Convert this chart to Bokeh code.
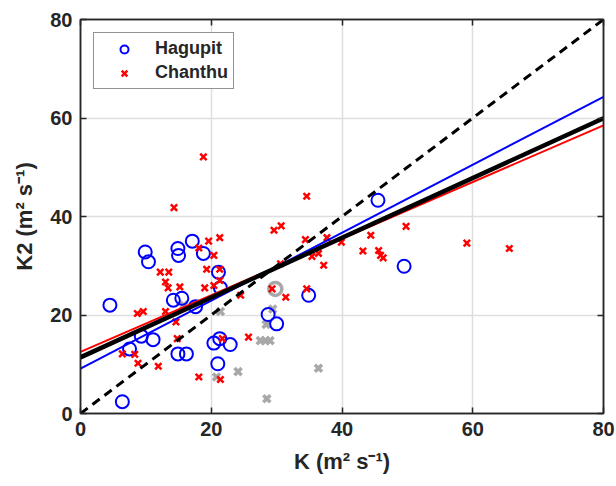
import numpy as np
from bokeh.plotting import figure
from bokeh.models import LinearAxis, FixedTicker, Range1d, Legend, LegendItem
from bokeh.embed import file_html
from bokeh.resources import INLINE

# ---- data ----
hag_k = [4.5, 9.9, 10.4, 14.9, 15.0, 17.1, 18.8, 21.1, 21.4, 14.2, 15.5, 17.6, 9.3, 11.1,
         7.5, 14.9, 16.2, 6.4, 20.4, 21.3, 22.9, 21.0, 28.7, 30.0, 34.9, 45.5, 49.5]
hag_k2 = [22.0, 32.8, 30.8, 33.5, 32.1, 35.0, 32.5, 28.7, 25.5, 23.0, 23.4, 21.7, 15.7, 15.0,
          13.1, 12.1, 12.1, 2.4, 14.3, 15.2, 14.0, 10.1, 20.1, 18.2, 24.0, 43.3, 29.9]

cha_k = [18.8, 14.3, 34.6, 19.6, 21.3, 18.1, 20.4, 19.3, 21.3, 12.2, 13.5, 13.0, 13.4, 15.2,
         19.0, 20.4, 21.3, 29.6, 30.7, 34.4, 37.7, 35.4, 36.4, 37.2, 30.6, 24.5, 31.4, 34.6,
         29.3, 8.7, 9.6, 13.0, 14.6, 14.8, 6.4, 8.3, 8.8, 11.9, 18.1, 21.4, 21.7, 25.7, 39.9,
         44.4, 43.2, 45.6, 45.9, 46.3, 49.8, 59.1, 65.6]
cha_k2 = [52.1, 41.8, 44.1, 35.0, 35.7, 33.6, 32.1, 29.3, 29.3, 28.7, 28.7, 26.7, 25.5, 25.7,
          25.5, 26.0, 27.0, 37.2, 38.1, 35.3, 35.7, 31.9, 32.5, 30.1, 30.4, 24.0, 23.6, 25.3,
          25.3, 20.3, 20.7, 20.7, 18.6, 15.2, 12.1, 12.0, 10.2, 9.6, 7.4, 6.9, 15.2, 15.5, 34.8,
          36.2, 33.0, 33.1, 32.1, 31.6, 38.0, 34.6, 33.5]

excl_k = [15.8, 21.4, 29.4, 28.4, 27.5, 28.3, 29.0, 24.1, 20.8, 28.5, 36.4]
excl_k2 = [22.0, 20.7, 21.2, 18.1, 14.8, 14.8, 14.8, 8.5, 7.4, 3.0, 9.2]
excl_circ_k = [29.8]
excl_circ_k2 = [25.3]

# linear fits: Hagupit, Chanthu, all
fit_names = ["Hagupit", "Chanthu", "All"]
fit_intercepts = [9.1, 12.5, 11.4]
fit_slopes = [0.69, 0.575, 0.607]

ticks = [0, 20, 40, 60, 80]
FONT = "Liberation Sans"

p = figure(width=616, height=486, output_backend="svg", toolbar_location=None,
           x_range=Range1d(0, 80), y_range=Range1d(0, 80),
           min_border_left=80, min_border_right=13, min_border_top=19, min_border_bottom=73,
           background_fill_color="white", border_fill_color="white")
p.outline_line_color = "#262626"
p.outline_line_width = 1.5

for ax in (p.xaxis[0], p.yaxis[0]):
    ax.ticker = FixedTicker(ticks=ticks)
    ax.major_tick_in = 6
    ax.major_tick_out = 0
    ax.minor_tick_line_color = None
    ax.axis_line_color = "#262626"
    ax.axis_line_width = 1.5
    ax.major_tick_line_color = "#262626"
    ax.major_tick_line_width = 1.5
    ax.major_label_text_font = FONT
    ax.major_label_text_font_style = "bold"
    ax.major_label_text_font_size = "20px"
    ax.major_label_text_color = "#262626"
    ax.axis_label_text_font = FONT
    ax.axis_label_text_font_style = "bold"
    ax.axis_label_text_font_size = "22px"
    ax.axis_label_text_color = "#262626"

p.xaxis[0].axis_label = "K (m² s⁻¹)"
p.yaxis[0].axis_label = "K2 (m² s⁻¹)"
p.xaxis[0].major_label_standoff = 8
p.yaxis[0].major_label_standoff = 8
p.xaxis[0].axis_label_standoff = 10
p.yaxis[0].axis_label_standoff = 10

for loc in ("above", "right"):
    ax = LinearAxis(ticker=FixedTicker(ticks=ticks))
    ax.major_tick_in = 6
    ax.major_tick_out = 0
    ax.minor_tick_line_color = None
    ax.major_label_text_font_size = "0px"
    ax.major_label_overrides = {t: " " for t in ticks}
    ax.major_label_standoff = 0
    ax.axis_line_color = "#262626"
    ax.axis_line_width = 1.5
    ax.major_tick_line_color = "#262626"
    ax.major_tick_line_width = 1.5
    p.add_layout(ax, loc)

p.xgrid.ticker = FixedTicker(ticks=ticks)
p.ygrid.ticker = FixedTicker(ticks=ticks)
p.xgrid.grid_line_color = "#dedede"
p.ygrid.grid_line_color = "#dedede"
p.xgrid.grid_line_width = 1.5
p.ygrid.grid_line_width = 1.5

# excluded points (grey)
p.scatter(excl_k, excl_k2, marker="x", size=10, line_width=3.5, line_color="#a8a8a8")
p.scatter(excl_circ_k, excl_circ_k2, marker="circle", size=13, line_width=3.5,
          line_color="#a8a8a8", fill_color=None)

r_hag = p.scatter(hag_k, hag_k2, marker="circle", size=13, line_width=2,
                  line_color="#0000ff", fill_color=None)
r_cha = p.scatter(cha_k, cha_k2, marker="x", size=9, line_width=2.5, line_color="#ff0000")

# fit lines
xs = np.array([0, 80])
colors = ["#0000ff", "#ff0000", "#000000"]
widths = [2, 2, 4.5]
for b, m, c, w in zip(fit_intercepts, fit_slopes, colors, widths):
    p.line(xs, b + m * xs, line_color=c, line_width=w)

# 1:1 line
p.line(xs, xs, line_color="black", line_width=3, line_dash="9 6")

legend = Legend(items=[LegendItem(label="Hagupit", renderers=[r_hag]),
                       LegendItem(label="Chanthu", renderers=[r_cha])],
                location="top_left")
legend.margin = 13
legend.padding = 5
legend.spacing = 3
legend.glyph_width = 50
legend.label_standoff = 6
legend.label_height = 20
legend.label_text_font = FONT
legend.label_text_font_style = "bold"
legend.label_text_font_size = "18px"
legend.label_text_color = "#262626"
legend.border_line_color = "#262626"
legend.border_line_width = 1.5
legend.background_fill_color = "white"
legend.background_fill_alpha = 1
p.add_layout(legend)

open("out.html", "w").write(file_html(p, INLINE))
